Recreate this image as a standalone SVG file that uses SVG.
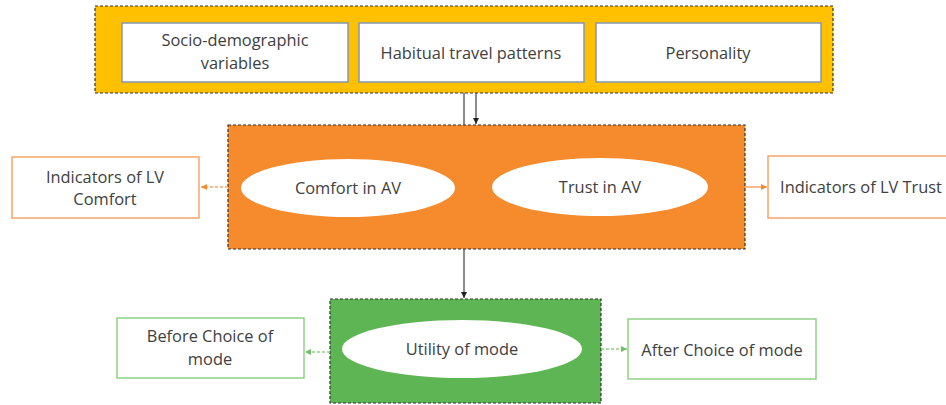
<svg xmlns="http://www.w3.org/2000/svg" width="946" height="405" viewBox="0 0 946 405">
<defs>
<style>
.t{font-family:"Open Sans","Noto Sans","Liberation Sans",sans-serif;font-size:16.4px;fill:#404040;text-anchor:middle}
.grp{stroke:#333;stroke-width:1.2;stroke-dasharray:3 2}
.wbox{fill:#fff;stroke:#8497B0;stroke-width:1.5}
.ell{fill:#fff}
.ob{fill:#fff;stroke:#F8A46A;stroke-width:1.5}
.gb{fill:#fff;stroke:#8FD185;stroke-width:1.5}
.blk{stroke:#404040;stroke-width:1.2;fill:none}
</style>
<marker id="ab" markerWidth="8" markerHeight="8" refX="6" refY="4" orient="auto" markerUnits="userSpaceOnUse">
<path d="M0,1 L6,4 L0,7 Z" fill="#222"/>
</marker>
<marker id="ao" markerWidth="8" markerHeight="8" refX="6" refY="4" orient="auto" markerUnits="userSpaceOnUse">
<path d="M0,1 L6,4 L0,7 Z" fill="#F58B2D"/>
</marker>
<marker id="ag" markerWidth="8" markerHeight="8" refX="6" refY="4" orient="auto" markerUnits="userSpaceOnUse">
<path d="M0,1 L6,4 L0,7 Z" fill="#6CC063"/>
</marker>
</defs>
<rect width="946" height="405" fill="#fff"/>

<g id="group-factors">
<rect x="95" y="6" width="738" height="87" fill="#FFC000" class="grp"/>
</g>
<g id="node-socio">
<rect x="122" y="23" width="226" height="59" class="wbox"/>
<text class="t" x="235" y="46">Socio-demographic</text>
<text class="t" x="235" y="69">variables</text>
</g>
<g id="node-habitual">
<rect x="359" y="23" width="225" height="59" class="wbox"/>
<text class="t" x="471" y="59">Habitual travel patterns</text>
</g>
<g id="node-personality">
<rect x="596" y="23" width="225" height="59" class="wbox"/>
<text class="t" x="708" y="59">Personality</text>
</g>

<g id="group-latent">
<rect x="228" y="125" width="517" height="124" fill="#F58B2D" class="grp"/>
</g>
<g id="node-comfort">
<ellipse cx="348" cy="188" rx="107" ry="29" class="ell"/>
<text class="t" x="348" y="194">Comfort in AV</text>
</g>
<g id="node-trust">
<ellipse cx="600" cy="187" rx="108" ry="29" class="ell"/>
<text class="t" x="600" y="193">Trust in AV</text>
</g>

<g id="node-ind-comfort">
<rect x="12" y="157" width="187" height="61" class="ob"/>
<text class="t" x="105" y="183">Indicators of LV</text>
<text class="t" x="105" y="205">Comfort</text>
</g>
<g id="node-ind-trust">
<rect x="768" y="156" width="200" height="62" class="ob"/>
<text class="t" x="861" y="193">Indicators of LV Trust</text>
</g>

<g id="group-utility">
<rect x="330" y="299" width="271" height="104" fill="#5DB653" class="grp"/>
</g>
<g id="node-utility">
<ellipse cx="462" cy="349" rx="120" ry="29" class="ell"/>
<text class="t" x="462" y="355">Utility of mode</text>
</g>
<g id="node-before">
<rect x="117" y="318" width="187" height="60" class="gb"/>
<text class="t" x="210" y="342">Before Choice of</text>
<text class="t" x="210" y="365">mode</text>
</g>
<g id="node-after">
<rect x="628" y="319" width="188" height="60" class="gb"/>
<text class="t" x="722" y="356">After Choice of mode</text>
</g>

<g id="connectors">
<line x1="464" y1="93" x2="464" y2="125" class="blk"/>
<line x1="476" y1="93" x2="476" y2="124" class="blk" marker-end="url(#ab)"/>
<line x1="464" y1="249" x2="464" y2="298" class="blk" marker-end="url(#ab)"/>
<line x1="228" y1="187" x2="201" y2="187" stroke="#F8A46A" stroke-width="1.5" stroke-dasharray="3 2" marker-end="url(#ao)"/>
<line x1="745" y1="187" x2="767" y2="187" stroke="#F8A46A" stroke-width="1.5" marker-end="url(#ao)"/>
<line x1="330" y1="352" x2="305" y2="352" stroke="#8FD185" stroke-width="1.5" stroke-dasharray="3 2" marker-end="url(#ag)"/>
<line x1="601" y1="349" x2="627" y2="349" stroke="#8FD185" stroke-width="1.5" stroke-dasharray="3 2" marker-end="url(#ag)"/>
</g>
</svg>
